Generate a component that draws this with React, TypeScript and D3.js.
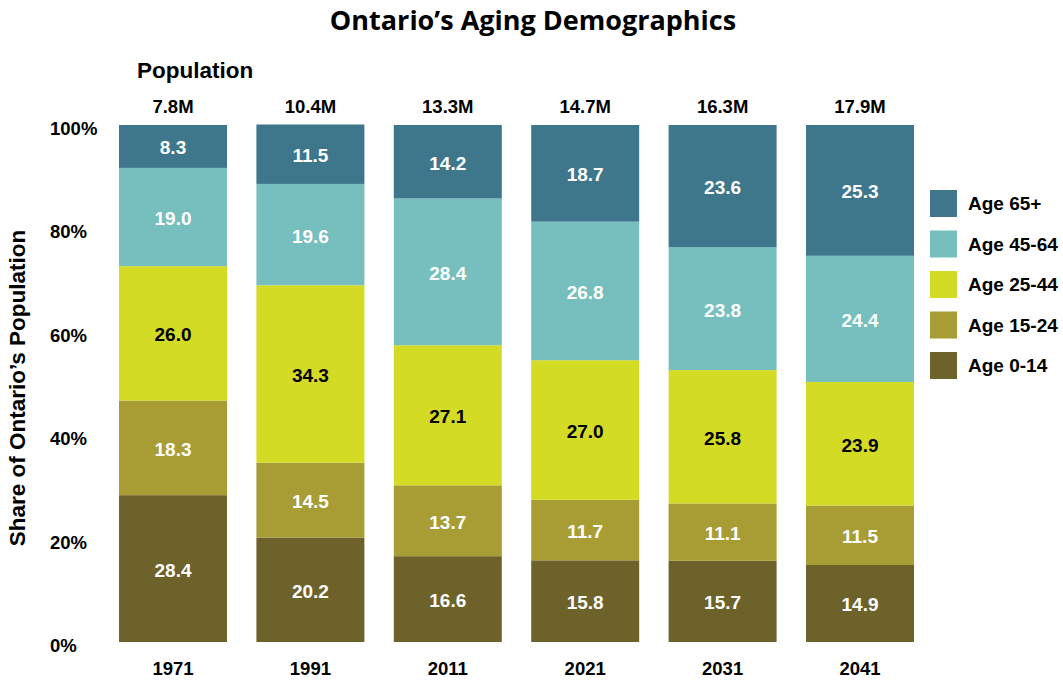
import * as d3 from 'd3';
import React from 'react';

// chart data
const years = ['1971', '1991', '2011', '2021', '2031', '2041'];
const population = ['7.8M', '10.4M', '13.3M', '14.7M', '16.3M', '17.9M'];
const age0to14 = [28.4, 20.2, 16.6, 15.8, 15.7, 14.9];
const age15to24 = [18.3, 14.5, 13.7, 11.7, 11.1, 11.5];
const age25to44 = [26.0, 34.3, 27.1, 27.0, 25.8, 23.9];
const age45to64 = [19.0, 19.6, 28.4, 26.8, 23.8, 24.4];
const age65plus = [8.3, 11.5, 14.2, 18.7, 23.6, 25.3];
const groups = ['Age 0-14', 'Age 15-24', 'Age 25-44', 'Age 45-64', 'Age 65+'];
const yTicks = [0, 20, 40, 60, 80, 100];

const colors: Record<string, string> = {
  'Age 0-14': '#6e622b',
  'Age 15-24': '#a89d35',
  'Age 25-44': '#d4db24',
  'Age 45-64': '#76bfbe',
  'Age 65+': '#3e778b',
};
const labelColors: Record<string, string> = {
  'Age 0-14': '#fff',
  'Age 15-24': '#fff',
  'Age 25-44': '#000',
  'Age 45-64': '#fff',
  'Age 65+': '#fff',
};

const font = '"Liberation Sans", Arial, Helvetica, sans-serif';

export default function App() {
  const width = 1063;
  const height = 681;
  const top = 125;
  const bottom = 642;

  const rows = years.map((year, i) => ({
    year,
    'Age 0-14': age0to14[i],
    'Age 15-24': age15to24[i],
    'Age 25-44': age25to44[i],
    'Age 45-64': age45to64[i],
    'Age 65+': age65plus[i],
  }));
  const series = d3.stack<any>().keys(groups)(rows);

  const x = d3
    .scaleBand()
    .domain(years)
    .range([104.3, 928.7])
    .paddingInner(0.214)
    .paddingOuter(0.107);
  const y = d3.scaleLinear().domain([0, 100]).range([bottom, top]);

  // legend is listed top-down from oldest group
  const legendGroups = groups.slice().reverse();

  return (
    <svg
      width={width}
      height={height}
      style={{ position: 'absolute', left: 0, top: 0, background: '#fff' }}
      fontFamily={font}
      fontWeight="bold"
    >
      <text
        x={533}
        y={30}
        textAnchor="middle"
        fontFamily='"Open Sans", sans-serif'
        fontSize={27}
        fontWeight={700}
      >
        Ontario’s Aging Demographics
      </text>
      <text x={137} y={78} fontSize={22.5}>
        Population
      </text>

      {/* population totals above bars */}
      {years.map((yr, i) => (
        <text
          key={'p' + yr}
          x={(x(yr) ?? 0) + x.bandwidth() / 2}
          y={113}
          textAnchor="middle"
          fontSize={18.5}
        >
          {population[i]}
        </text>
      ))}

      {/* y axis labels */}
      {yTicks.map(t => (
        <text key={'t' + t} x={50} y={y(t) + 10} fontSize={18.5}>
          {t}%
        </text>
      ))}
      <text
        transform={`translate(25,388) rotate(-90)`}
        textAnchor="middle"
        fontSize={22.5}
      >
        Share of Ontario’s Population
      </text>

      {/* bars */}
      {series.map(s => (
        <g key={s.key} fill={colors[s.key]}>
          {s.map(d => (
            <rect
              key={d.data.year}
              x={x(d.data.year)}
              y={y(d[1])}
              width={x.bandwidth()}
              height={y(d[0]) - y(d[1])}
            />
          ))}
        </g>
      ))}

      {/* segment labels */}
      {series.map(s => (
        <g key={'l' + s.key} fill={labelColors[s.key]} fontSize={19}>
          {s.map(d => (
            <text
              key={d.data.year}
              x={(x(d.data.year) ?? 0) + x.bandwidth() / 2}
              y={(y(d[0]) + y(d[1])) / 2 + 8}
              textAnchor="middle"
            >
              {(d[1] - d[0]).toFixed(1)}
            </text>
          ))}
        </g>
      ))}

      {/* year labels */}
      {years.map(yr => (
        <text
          key={'y' + yr}
          x={(x(yr) ?? 0) + x.bandwidth() / 2}
          y={675}
          textAnchor="middle"
          fontSize={18.5}
        >
          {yr}
        </text>
      ))}

      {/* legend */}
      {legendGroups.map((g, i) => (
        <g key={'lg' + g} transform={`translate(930,${190 + i * 40.5})`}>
          <rect width={27} height={27} fill={colors[g]} />
          <text x={38} y={20} fontSize={19}>
            {g}
          </text>
        </g>
      ))}
    </svg>
  );
}
